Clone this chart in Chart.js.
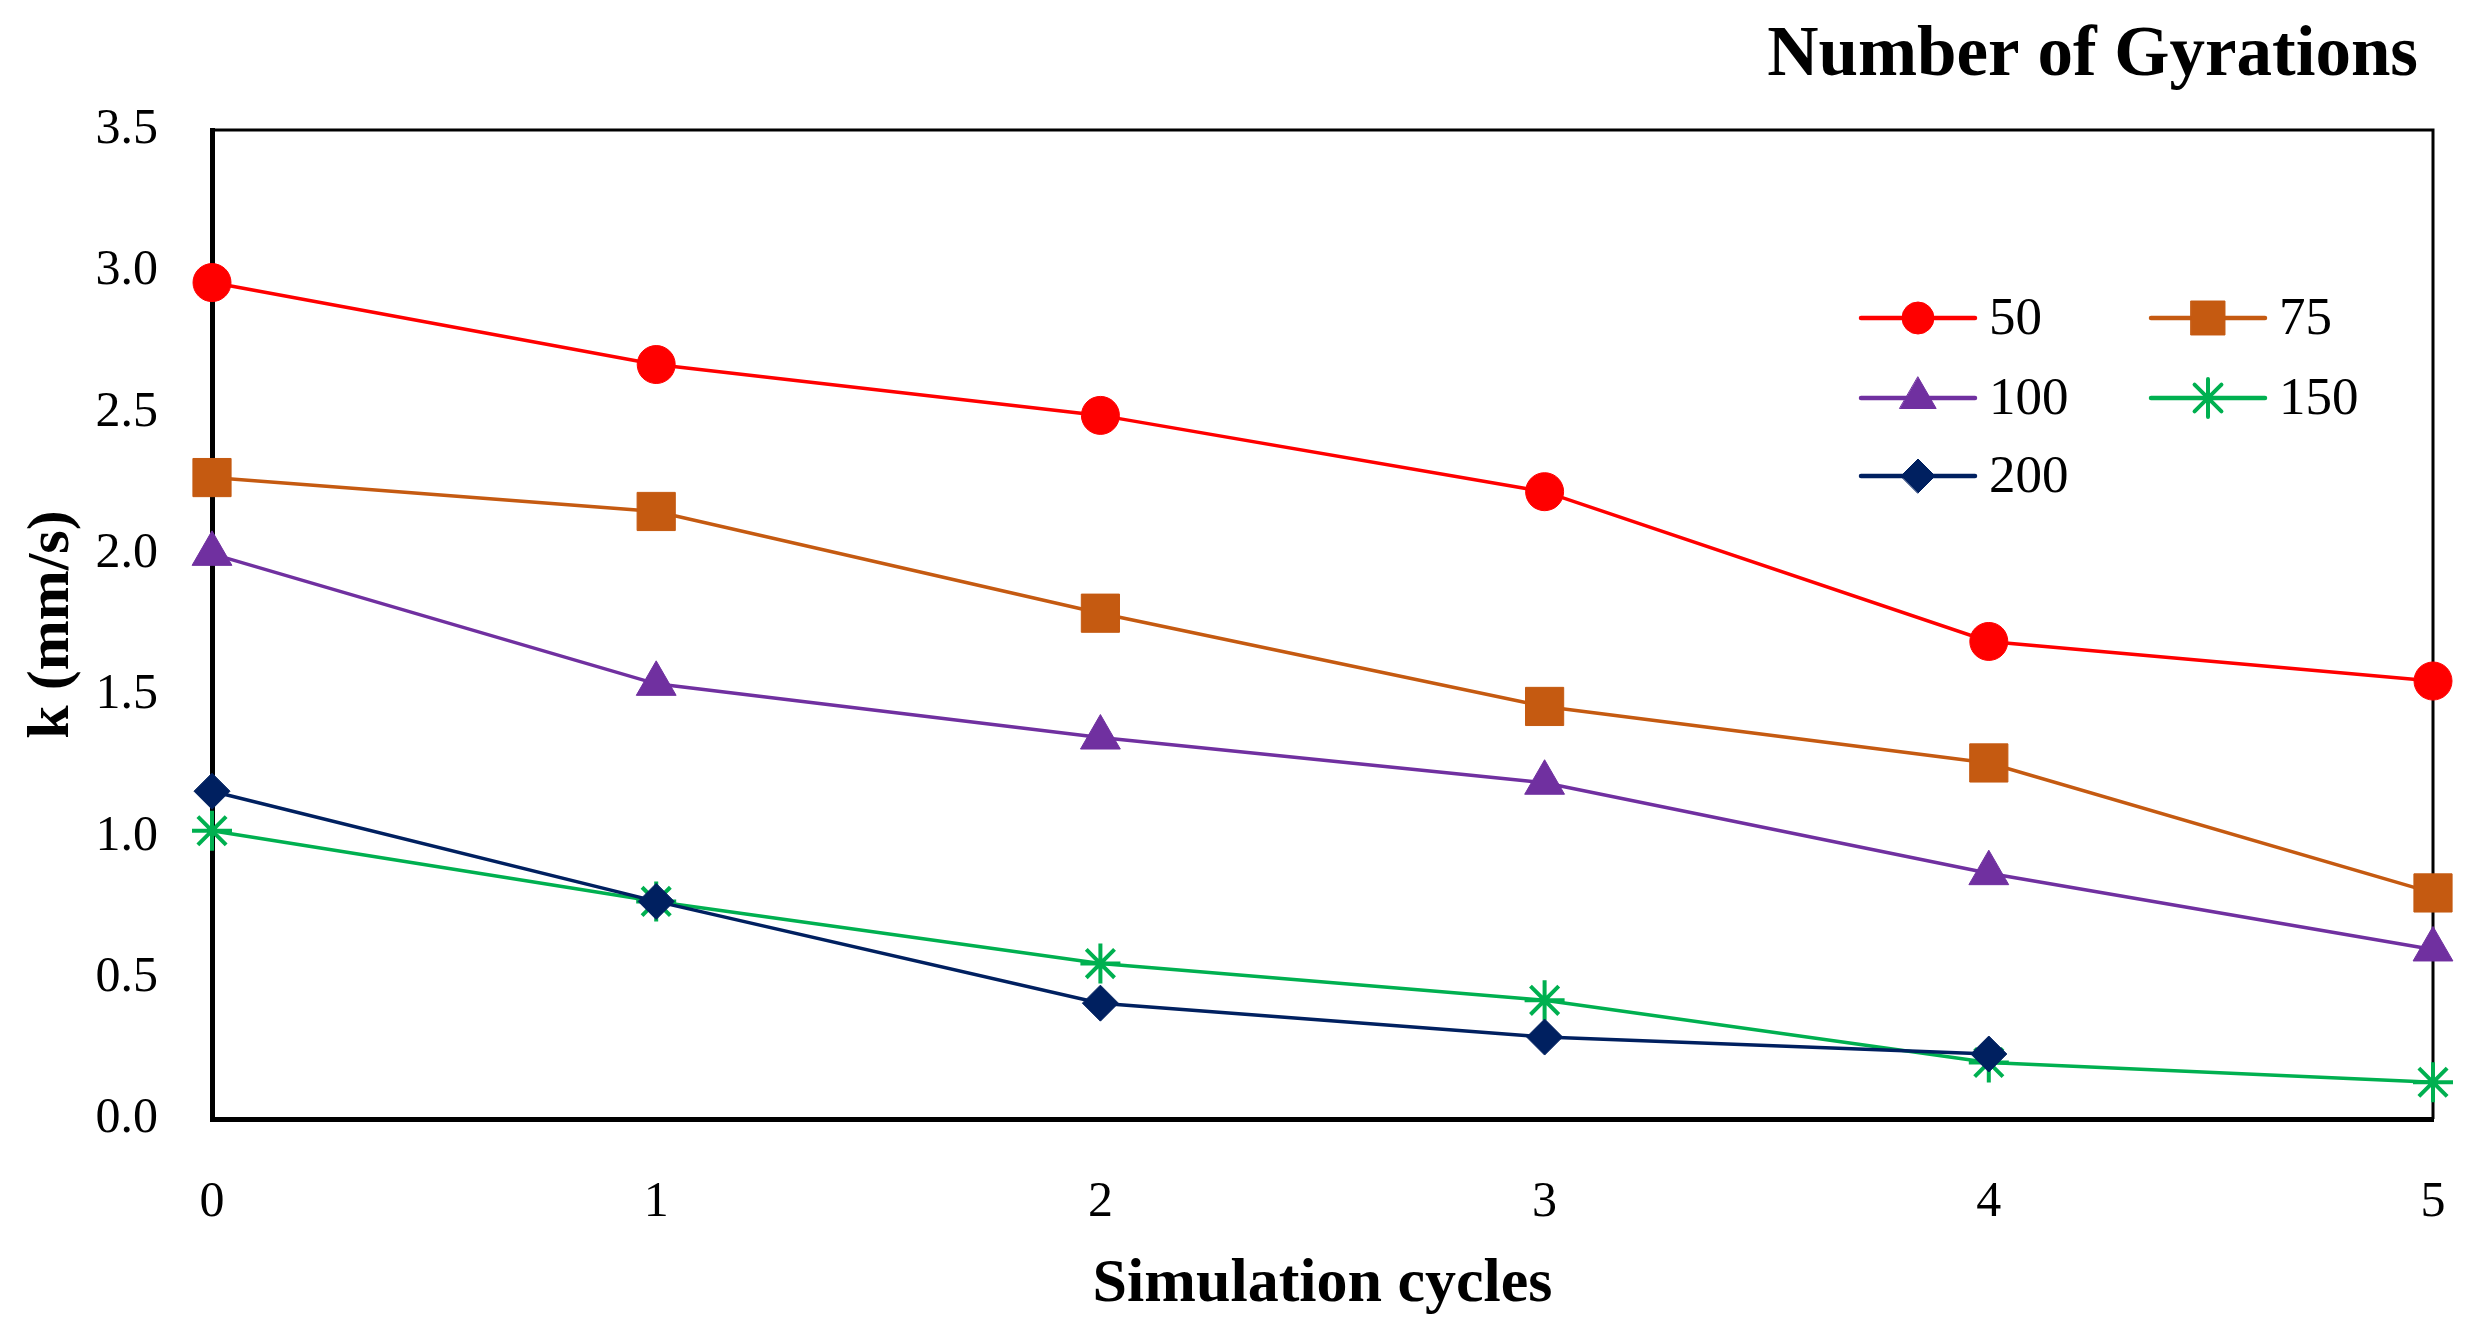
<!DOCTYPE html>
<html>
<head>
<meta charset="utf-8">
<script src="https://cdn.jsdelivr.net/npm/chart.js@4.4.1/dist/chart.umd.min.js"></script>
<style>
  html, body { margin: 0; padding: 0; background: #fff; }
  #wrap { width: 2478px; height: 1342px; }
</style>
</head>
<body>
<div id="wrap"><canvas id="chart" width="2478" height="1342"></canvas></div>
<script>
// Dados
const cycles = ['0', '1', '2', '3', '4', '5'];
const yTicks = [0, 0.5, 1.0, 1.5, 2.0, 2.5, 3.0, 3.5];
const seriesNames = ['50', '75', '100', '150', '200'];
const gyr50 = [2.96, 2.67, 2.49, 2.22, 1.69, 1.55];
const gyr75 = [2.27, 2.15, 1.79, 1.46, 1.26, 0.80];
const gyr100 = [2.00, 1.54, 1.35, 1.19, 0.87, 0.60];
const gyr150 = [1.02, 0.77, 0.55, 0.42, 0.20, 0.13];
const gyr200 = [1.16, 0.77, 0.41, 0.29, 0.23];

const FONT = "'Liberation Serif', 'DejaVu Serif', serif";
Chart.defaults.font.family = FONT;
Chart.defaults.color = '#000';

function series(label, data, color, style, radius, legendRadius, order) {
  return {
    label,
    data,
    borderColor: color,
    backgroundColor: color,
    pointBackgroundColor: color,
    pointBorderColor: color,
    pointStyle: style,
    pointRadius: radius,
    pointBorderWidth: style === 'star' ? 4 : 1,
    borderWidth: 3.5,
    legendRadius,
    tension: 0,
    clip: false,
    order
  };
}

// Moldura superior e direita
const framePlugin = {
  id: 'frame',
  beforeDatasetsDraw(chart) {
    const { ctx } = chart;
    const { left, right, top, bottom } = chart.chartArea;
    ctx.save();
    ctx.strokeStyle = '#000';
    ctx.lineWidth = 3;
    ctx.beginPath();
    ctx.moveTo(left, top);
    ctx.lineTo(right, top);
    ctx.lineTo(right, bottom);
    ctx.stroke();
    ctx.restore();
  }
};

// Título no canto superior direito
const titlePlugin = {
  id: 'cornerTitle',
  afterDraw(chart) {
    const { ctx } = chart;
    ctx.save();
    ctx.font = "bold 71px " + FONT;
    ctx.fillStyle = '#000';
    ctx.textAlign = 'right';
    ctx.textBaseline = 'middle';
    ctx.fillText('Number of Gyrations', chart.chartArea.right - 15, 57);
    ctx.restore();
  }
};

// Legenda dentro da área do gráfico, 2 colunas
const legendPlugin = {
  id: 'insideLegend',
  afterDraw(chart) {
    const { ctx } = chart;
    const right = chart.chartArea.right;
    const cols = [right - 572, right - 282];
    const rows = [318, 398, 476];
    chart.data.datasets.forEach((ds, i) => {
      const x = cols[i % 2];
      const y = rows[Math.floor(i / 2)];
      ctx.save();
      ctx.strokeStyle = ds.borderColor;
      ctx.lineWidth = 4.5;
      ctx.lineCap = 'round';
      ctx.beginPath();
      ctx.moveTo(x, y);
      ctx.lineTo(x + 114, y);
      ctx.stroke();
      ctx.fillStyle = ds.pointBackgroundColor;
      ctx.strokeStyle = ds.pointBorderColor;
      ctx.lineWidth = ds.pointBorderWidth;
      Chart.helpers.drawPoint(ctx, {
        pointStyle: ds.pointStyle,
        radius: ds.legendRadius,
        borderWidth: ds.pointBorderWidth,
        rotation: 0
      }, x + 57, y);
      ctx.font = "53px " + FONT;
      ctx.fillStyle = '#000';
      ctx.textAlign = 'left';
      ctx.textBaseline = 'middle';
      ctx.fillText(ds.label, x + 128, y + 2);
      ctx.restore();
    });
  }
};

new Chart(document.getElementById('chart'), {
  type: 'line',
  data: {
    labels: cycles,
    datasets: [
      series(seriesNames[0], gyr50, '#FF0000', 'circle', 19, 16, 5),
      series(seriesNames[1], gyr75, '#C55A11', 'rect', 27, 24, 4),
      series(seriesNames[2], gyr100, '#7030A0', 'triangle', 23, 21, 3),
      series(seriesNames[3], gyr150, '#00B050', 'star', 20, 19, 2),
      series(seriesNames[4], gyr200, '#002060', 'rectRot', 18, 17, 1)
    ]
  },
  options: {
    responsive: false,
    devicePixelRatio: 1,
    animation: false,
    layout: { padding: { left: 0, right: 45, top: 130, bottom: 0 } },
    plugins: {
      legend: { display: false },
      title: { display: false },
      tooltip: { enabled: false }
    },
    scales: {
      x: {
        type: 'category',
        offset: false,
        grid: { display: false, drawTicks: false },
        border: { display: true, color: '#000', width: 5 },
        ticks: { font: { size: 50 }, color: '#000', padding: 54, maxRotation: 0 },
        title: {
          display: true,
          text: 'Simulation cycles',
          font: { size: 62, weight: 'bold' },
          color: '#000',
          padding: { top: 0, bottom: 20 }
        },
        afterFit(scale) {
          scale.height = 223;
          scale.paddingLeft = 0;
          scale.paddingRight = 0;
        }
      },
      y: {
        min: 0,
        max: 3.5,
        afterBuildTicks(scale) { scale.ticks = yTicks.map(v => ({ value: v })); },
        grid: { display: false, drawTicks: false },
        border: { display: true, color: '#000', width: 5 },
        ticks: {
          font: { size: 50 },
          color: '#000',
          padding: 54,
          callback: v => Number(v).toFixed(1)
        },
        title: {
          display: true,
          text: 'k (mm/s)',
          font: { size: 60, weight: 'bold' },
          color: '#000',
          padding: { top: 16, bottom: 0 }
        },
        afterFit(scale) { scale.width = 212; }
      }
    }
  },
  plugins: [framePlugin, titlePlugin, legendPlugin]
});
</script>
</body>
</html>
